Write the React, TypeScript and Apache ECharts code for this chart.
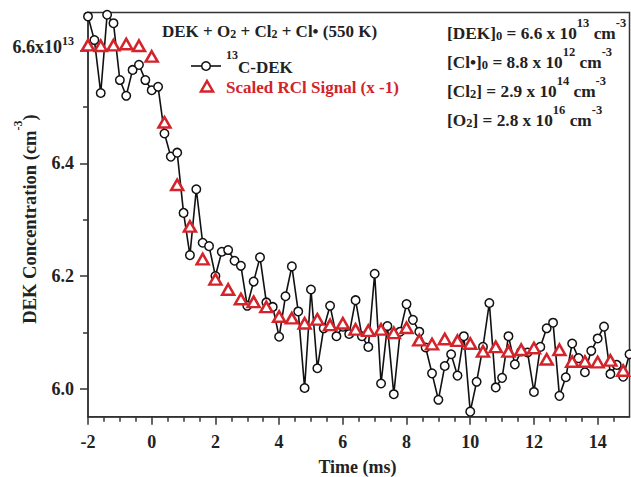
import React, { useEffect, useRef } from 'react';
import * as echarts from 'echarts';

// 13C-DEK signal (circles), time in ms
const dekTimes = [
  -2.0, -1.8, -1.6, -1.4, -1.2, -1.0, -0.8, -0.6, -0.4, -0.2,
  0.0, 0.2, 0.4, 0.6, 0.8, 1.0, 1.2, 1.4, 1.6, 1.8,
  2.0, 2.2, 2.4, 2.6, 2.8, 3.0, 3.2, 3.4, 3.6, 3.8,
  4.0, 4.2, 4.4, 4.6, 4.8, 5.0, 5.2, 5.4, 5.6, 5.8,
  6.0, 6.2, 6.4, 6.6, 6.8, 7.0, 7.2, 7.4, 7.6, 7.8,
  8.0, 8.2, 8.4, 8.6, 8.8, 9.0, 9.2, 9.4, 9.6, 9.8,
  10.0, 10.2, 10.4, 10.6, 10.8, 11.0, 11.2, 11.4, 11.6, 11.8,
  12.0, 12.2, 12.4, 12.6, 12.8, 13.0, 13.2, 13.4, 13.6, 13.8,
  14.0, 14.2, 14.4, 14.6, 14.8, 15.0,
];
const dekValues = [
  6.661, 6.619, 6.525, 6.664, 6.649, 6.548, 6.520, 6.566, 6.575, 6.548,
  6.530, 6.536, 6.453, 6.412, 6.419, 6.312, 6.237, 6.354, 6.259, 6.253,
  6.200, 6.243, 6.246, 6.227, 6.218, 6.147, 6.190, 6.233, 6.153, 6.145,
  6.092, 6.164, 6.217, 6.137, 6.001, 6.176, 6.036, 6.107, 6.147, 6.093,
  6.110, 6.097, 6.157, 6.093, 6.074, 6.204, 6.009, 6.111, 5.990, 6.101,
  6.150, 6.122, 6.101, 6.073, 6.027, 5.980, 6.040, 6.061, 6.023, 6.093,
  5.959, 6.012, 6.074, 6.152, 6.002, 6.019, 6.093, 6.043, 6.066, 6.064,
  5.994, 6.074, 6.107, 6.117, 5.987, 6.020, 6.080, 6.054, 6.029, 6.067,
  6.089, 6.110, 6.026, 6.042, 6.021, 6.061,
];

// Scaled RCl signal (triangles)
const rclTimes = [
  -2.0, -1.6, -1.2, -0.8, -0.4, 0.0, 0.4, 0.8, 1.2, 1.6, 2.0, 2.4, 2.8, 3.2, 3.6,
  4.0, 4.4, 4.8, 5.2, 5.6, 6.0, 6.4, 6.8, 7.2, 7.6, 8.0, 8.4, 8.8, 9.2, 9.6,
  10.0, 10.4, 10.8, 11.2, 11.6, 12.0, 12.4, 12.8, 13.2, 13.6, 14.0, 14.4, 14.8,
];
const rclValues = [
  6.610, 6.609, 6.610, 6.612, 6.609, 6.590, 6.473, 6.362, 6.288, 6.230, 6.194, 6.176, 6.159, 6.154, 6.145,
  6.128, 6.125, 6.116, 6.123, 6.113, 6.116, 6.105, 6.103, 6.105, 6.099, 6.108, 6.086, 6.079, 6.088, 6.085,
  6.080, 6.066, 6.074, 6.066, 6.069, 6.072, 6.052, 6.069, 6.048, 6.048, 6.047, 6.050, 6.032,
];

// Tick positions
const xMajorTicks = [-2, 0, 2, 4, 6, 8, 10, 12, 14];
const xMinorTicks = [
  -1.5, -1, -0.5, 0.5, 1, 1.5, 2.5, 3, 3.5, 4.5, 5, 5.5, 6.5, 7, 7.5,
  8.5, 9, 9.5, 10.5, 11, 11.5, 12.5, 13, 13.5, 14.5,
];
const yMajorTicks = [6.0, 6.2, 6.4, 6.6];
const yMinorTicks = [6.1, 6.3, 6.5];

const X_MIN = -2;
const X_MAX = 15;
const Y_MIN = 5.95;
const Y_MAX = 6.668;

const FONT = '"Liberation Serif", "Times New Roman", serif';
const AXIS_COLOR = '#333';
const RED = '#d3232b';

function richSet(size: number, color: string, supShift: number, subShift: number, small: number) {
  const base = { fontFamily: FONT, fontWeight: 'bold' as const, fill: color, color };
  return {
    n: { ...base, fontSize: size },
    sup: { ...base, fontSize: small, padding: [0, 0, supShift * 2, 0] },
    sub: { ...base, fontSize: small, padding: [subShift * 2, 0, 0, 0] },
  };
}

function textEl(x: number, y: number, text: string, rich: any, align: string, rotation = 0) {
  return {
    type: 'text',
    x,
    y,
    rotation,
    silent: true,
    style: {
      text,
      rich,
      fontFamily: FONT,
      fontWeight: 'bold',
      fontSize: 17,
      fill: '#222',
      align,
      verticalAlign: 'middle',
    },
  };
}

export default function App() {
  const ref = useRef<HTMLDivElement>(null);

  useEffect(() => {
    if (!ref.current) return;
    const chart = echarts.init(ref.current, undefined, { renderer: 'svg' });

    const tickLine = { color: AXIS_COLOR, width: 1.5 };
    const annRich = richSet(17.3, '#222', 10, 3, 12.5);
    const titleRich = richSet(17, '#222', 8, 3, 12);
    const legRich = richSet(17, '#222', 12, 3, 12);
    const redRich = richSet(17, RED, 8, 3, 12);
    const nameRich = richSet(18.5, '#222', 12, 3, 12);

    const option: any = {
      animation: false,
      backgroundColor: '#fff',
      grid: {
        left: 88,
        right: 1.5,
        top: 12.5,
        bottom: 60.3,
        show: true,
        borderColor: AXIS_COLOR,
        borderWidth: 1.5,
        backgroundColor: 'transparent',
      },
      xAxis: [
        {
          type: 'value',
          min: X_MIN,
          max: X_MAX,
          position: 'bottom',
          axisLine: { show: true, onZero: false, lineStyle: tickLine },
          axisTick: { show: true, customValues: xMajorTicks, length: 8, lineStyle: tickLine },
          axisLabel: {
            customValues: xMajorTicks,
            margin: 16,
            fontSize: 18,
            fontWeight: 'bold',
            fontFamily: FONT,
            color: '#222',
          },
          splitLine: { show: false },
        },
        {
          type: 'value',
          min: X_MIN,
          max: X_MAX,
          position: 'bottom',
          axisLine: { show: false, onZero: false },
          axisTick: { show: true, customValues: xMinorTicks, length: 5, lineStyle: tickLine },
          axisLabel: { show: false },
          splitLine: { show: false },
        },
      ],
      yAxis: [
        {
          type: 'value',
          min: Y_MIN,
          max: Y_MAX,
          position: 'left',
          axisLine: { show: true, onZero: false, lineStyle: tickLine },
          axisTick: { show: true, customValues: yMajorTicks, length: 8, lineStyle: tickLine },
          axisLabel: {
            customValues: yMajorTicks,
            margin: 14,
            fontSize: 18,
            fontWeight: 'bold',
            fontFamily: FONT,
            color: '#222',
            formatter: (v: number) =>
              Math.abs(v - 6.6) < 1e-6 ? '{m|6.6x10}{s|13}' : v.toFixed(1),
            rich: {
              m: { fontSize: 18, fontWeight: 'bold', fontFamily: FONT, color: '#222', padding: [0, 0, 8, 0] },
              s: { fontSize: 12, fontWeight: 'bold', fontFamily: FONT, color: '#222', padding: [0, 0, 20, 0] },
            },
          },
          splitLine: { show: false },
        },
        {
          type: 'value',
          min: Y_MIN,
          max: Y_MAX,
          position: 'left',
          axisLine: { show: false, onZero: false },
          axisTick: { show: true, customValues: yMinorTicks, length: 5, lineStyle: tickLine },
          axisLabel: { show: false },
          splitLine: { show: false },
        },
      ],
      series: [
        {
          name: '13C-DEK',
          type: 'line',
          xAxisIndex: 0,
          yAxisIndex: 0,
          data: dekTimes.map((t, i) => [t, dekValues[i]]),
          symbol: 'circle',
          symbolSize: 8.5,
          showSymbol: true,
          clip: false,
          lineStyle: { color: '#111', width: 1.6 },
          itemStyle: { color: '#fff', borderColor: '#111', borderWidth: 1.5 },
          z: 2,
        },
        {
          name: 'Scaled RCl Signal (x -1)',
          type: 'scatter',
          xAxisIndex: 0,
          yAxisIndex: 0,
          data: rclTimes.map((t, i) => [t, rclValues[i]]),
          symbol: 'triangle',
          symbolSize: [12, 10.5],
          clip: false,
          itemStyle: { color: '#fff', borderColor: RED, borderWidth: 2.5, opacity: 1 },
          z: 3,
        },
      ],
      graphic: [
        textEl(162, 31, '{n|DEK + O}{sub|2}{n| + Cl}{sub|2}{n| + Cl• (550 K)}', titleRich, 'left'),
        // legend row 1
        {
          type: 'line',
          silent: true,
          shape: { x1: 191, y1: 66, x2: 221, y2: 66 },
          style: { stroke: '#111', lineWidth: 1.6 },
        },
        {
          type: 'circle',
          silent: true,
          shape: { cx: 206, cy: 66, r: 4.3 },
          style: { fill: '#fff', stroke: '#111', lineWidth: 1.5 },
        },
        textEl(226, 67, '{sup|13}{n|C-DEK}', legRich, 'left'),
        // legend row 2
        {
          type: 'polygon',
          silent: true,
          shape: { points: [[201, 91.5], [213, 91.5], [207, 81]] },
          style: { fill: '#fff', stroke: RED, lineWidth: 2.5 },
        },
        textEl(226, 87, '{n|Scaled RCl Signal (x -1)}', redRich, 'left'),
        // conditions
        textEl(447, 33, '{n|[DEK]}{sub|0}{n| = 6.6 x 10}{sup|13}{n| cm}{sup|-3}', annRich, 'left'),
        textEl(447, 62, '{n|[Cl•]}{sub|0}{n| = 8.8 x 10}{sup|12}{n| cm}{sup|-3}', annRich, 'left'),
        textEl(447, 91, '{n|[Cl}{sub|2}{n|] = 2.9 x 10}{sup|14}{n| cm}{sup|-3}', annRich, 'left'),
        textEl(447, 120, '{n|[O}{sub|2}{n|] = 2.8 x 10}{sup|16}{n| cm}{sup|-3}', annRich, 'left'),
        // axis titles
        {
          type: 'text',
          x: 357.5,
          y: 467,
          silent: true,
          style: {
            text: 'Time (ms)',
            fontFamily: FONT,
            fontWeight: 'bold',
            fontSize: 18,
            fill: '#222',
            align: 'center',
            verticalAlign: 'middle',
          },
        },
        textEl(29.5, 219, '{n|DEK Concentration (cm}{sup|-3}{n|)}', nameRich, 'center', Math.PI / 2),
      ],
    };

    chart.setOption(option);
    return () => {
      chart.dispose();
    };
  }, []);

  return (
    <div
      ref={ref}
      style={{ position: 'fixed', left: 0, top: 0, width: 631, height: 477, background: '#fff' }}
    />
  );
}
